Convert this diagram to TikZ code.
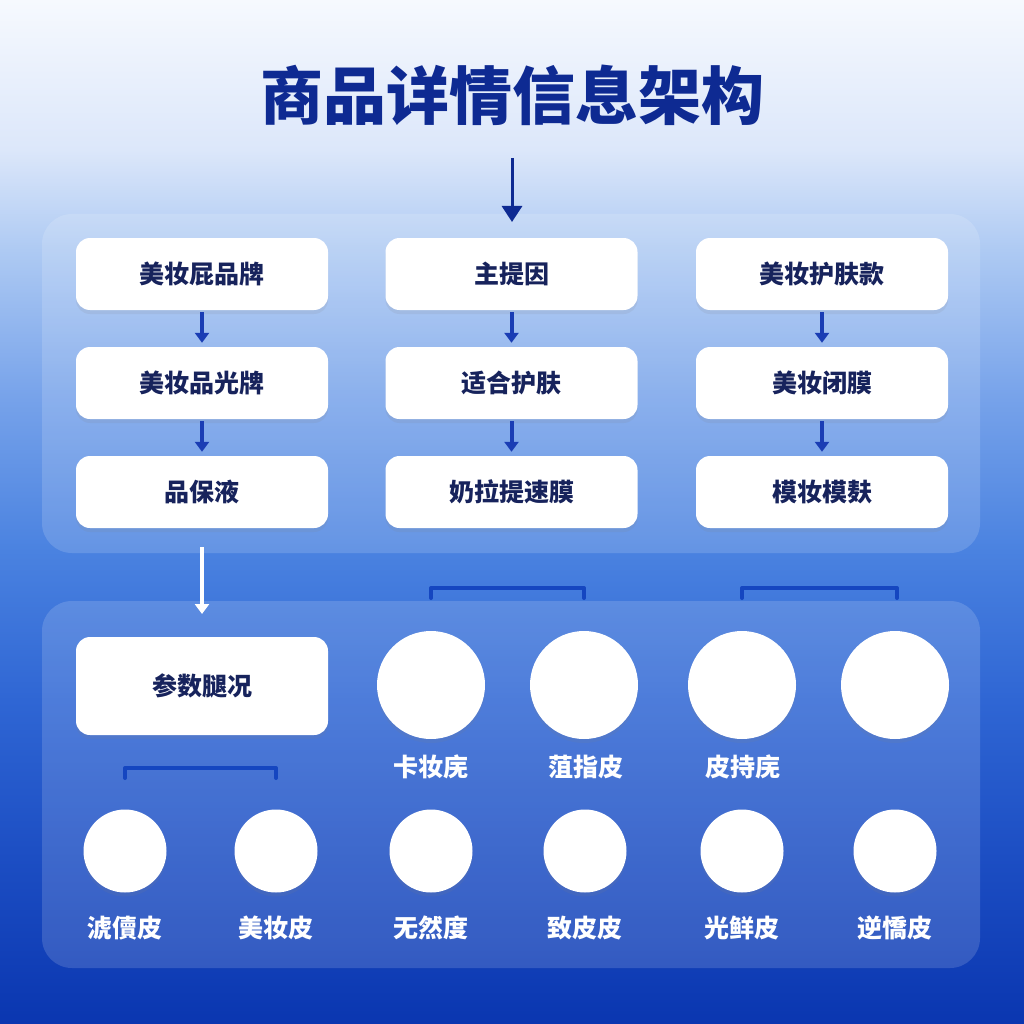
\documentclass[tikz,border=0pt]{standalone}
\usepackage{fontspec}
\newfontfamily\cjk{Noto Sans CJK SC}
\usetikzlibrary{arrows.meta,shadows}
\definecolor{navy}{HTML}{17235C}
\definecolor{titleblue}{HTML}{0E2A92}
\definecolor{arrblue}{HTML}{1A3DB4}
\definecolor{brk}{HTML}{1546C0}
\definecolor{bgA}{HTML}{0A36B0}
\definecolor{bgB}{HTML}{1D4FC4}
\definecolor{bgC}{HTML}{2F66D4}
\definecolor{bgD}{HTML}{4A82E0}
\definecolor{bgE}{HTML}{76A2EA}
\definecolor{bgF}{HTML}{AECAF3}
\definecolor{bgG}{HTML}{DCE7FA}
\definecolor{bgH}{HTML}{F6F9FE}
\pgfdeclareverticalshading{bgshade}{100bp}{%
  color(0bp)=(bgA); color(25bp)=(bgA); color(33.5bp)=(bgB); color(40.8bp)=(bgC);
  color(48.1bp)=(bgD); color(55.5bp)=(bgE); color(62.8bp)=(bgF); color(67.7bp)=(bgG);
  color(75bp)=(bgH); color(100bp)=(bgH)}
\tikzset{
  panel/.style={fill=white, fill opacity=0.15, draw=none, rounded corners=30pt},
  card/.style={fill=white, draw=none, rounded corners=14pt, minimum width=252pt, minimum height=72pt,
    text=navy, font=\cjk\bfseries\fontsize{25}{30}\selectfont, inner sep=0pt,
    drop shadow={opacity=0.12, shadow xshift=0pt, shadow yshift=-4pt}},
  bigdot/.style={circle, fill=white, draw=none, minimum size=108pt, inner sep=0pt,
    drop shadow={opacity=0.12, shadow xshift=0pt, shadow yshift=-4pt}},
  smalldot/.style={circle, fill=white, draw=none, minimum size=83pt, inner sep=0pt,
    drop shadow={opacity=0.12, shadow xshift=0pt, shadow yshift=-4pt}},
  dotlabel/.style={text=white, font=\cjk\bfseries\fontsize{25}{29}\selectfont, inner sep=0pt},
  arr/.style={draw=arrblue, line width=4pt, -{Triangle[width=14pt,length=10pt]}},
  mainarr/.style={draw=titleblue, line width=3pt, -{Triangle[width=20pt,length=16pt]}},
  whitearr/.style={draw=white, line width=3.5pt, -{Triangle[width=14pt,length=10pt]}},
  bracket/.style={draw=brk, line width=4pt, line cap=round, line join=round},
}
\begin{document}
\begin{tikzpicture}[x=1pt,y=-1pt]
\useasboundingbox (0,0) rectangle (1024,1024);
\shade[shading=bgshade] (0,0) rectangle (1024,1024);

% title
\node[text=titleblue, font=\cjk\bfseries\fontsize{63}{70}\selectfont, inner sep=0pt] (title) at (512,95) {商品详情信息架构};

% panels
\path[panel] (42,214) rectangle (980,553);
\path[panel] (42,601) rectangle (980,968);
\coordinate (p1top) at (512,222);
\coordinate (t0) at (512,158);
\draw[mainarr] (t0) -- (p1top);

% cards
\node[card] (a1) at (202,274) {美妆屁品牌};
\node[card] (a2) at (202,383) {美妆品光牌};
\node[card] (a3) at (202,492) {品保液};
\node[card] (b1) at (511.5,274) {主提因};
\node[card] (b2) at (511.5,383) {适合护肤};
\node[card] (b3) at (511.5,492) {奶拉提速膜};
\node[card] (c1) at (822,274) {美妆护肤款};
\node[card] (c2) at (822,383) {美妆闭膜};
\node[card] (c3) at (822,492) {模妆模麸};

\foreach \u/\v in {a1/a2,a2/a3,b1/b2,b2/b3,c1/c2,c2/c3}
  \draw[arr, shorten <=2pt, shorten >=4pt] (\u) -- (\v);

% param card
\node[card, minimum height=98pt] (p) at (202,686) {参数腿况};
\coordinate (w0) at (202,547);
\coordinate (w1) at (202,614);
\draw[whitearr] (w0) -- (w1);

% brackets
\coordinate (k1a) at (431,598); \coordinate (k1b) at (431,588); \coordinate (k1c) at (584,588); \coordinate (k1d) at (584,598);
\draw[bracket] (k1a) -- (k1b) -- (k1c) -- (k1d);
\coordinate (k2a) at (742,598); \coordinate (k2b) at (742,588); \coordinate (k2c) at (897,588); \coordinate (k2d) at (897,598);
\draw[bracket] (k2a) -- (k2b) -- (k2c) -- (k2d);
\coordinate (k3a) at (125,778); \coordinate (k3b) at (125,768); \coordinate (k3c) at (276,768); \coordinate (k3d) at (276,778);
\draw[bracket] (k3a) -- (k3b) -- (k3c) -- (k3d);

% big dots
\node[bigdot] (d1) at (431,685) {};
\node[bigdot] (d2) at (584,685) {};
\node[bigdot] (d3) at (742,685) {};
\node[bigdot] (d4) at (895,685) {};
\node[dotlabel] (l1) at (431,767) {卡妆庑};
\node[dotlabel] (l2) at (586,767) {菹指皮};
\node[dotlabel] (l3) at (743,767) {皮持庑};

% small dots
\node[smalldot] (e1) at (125,851) {};
\node[smalldot] (e2) at (276,851) {};
\node[smalldot] (e3) at (431,851) {};
\node[smalldot] (e4) at (585,851) {};
\node[smalldot] (e5) at (742,851) {};
\node[smalldot] (e6) at (895,851) {};
\node[dotlabel] (m1) at (125,928) {淲儥皮};
\node[dotlabel] (m2) at (276,928) {美妆皮};
\node[dotlabel] (m3) at (431,928) {无然度};
\node[dotlabel] (m4) at (585,928) {致皮皮};
\node[dotlabel] (m5) at (742,928) {光鲜皮};
\node[dotlabel] (m6) at (895,928) {逆憍皮};
\end{tikzpicture}
\end{document}
